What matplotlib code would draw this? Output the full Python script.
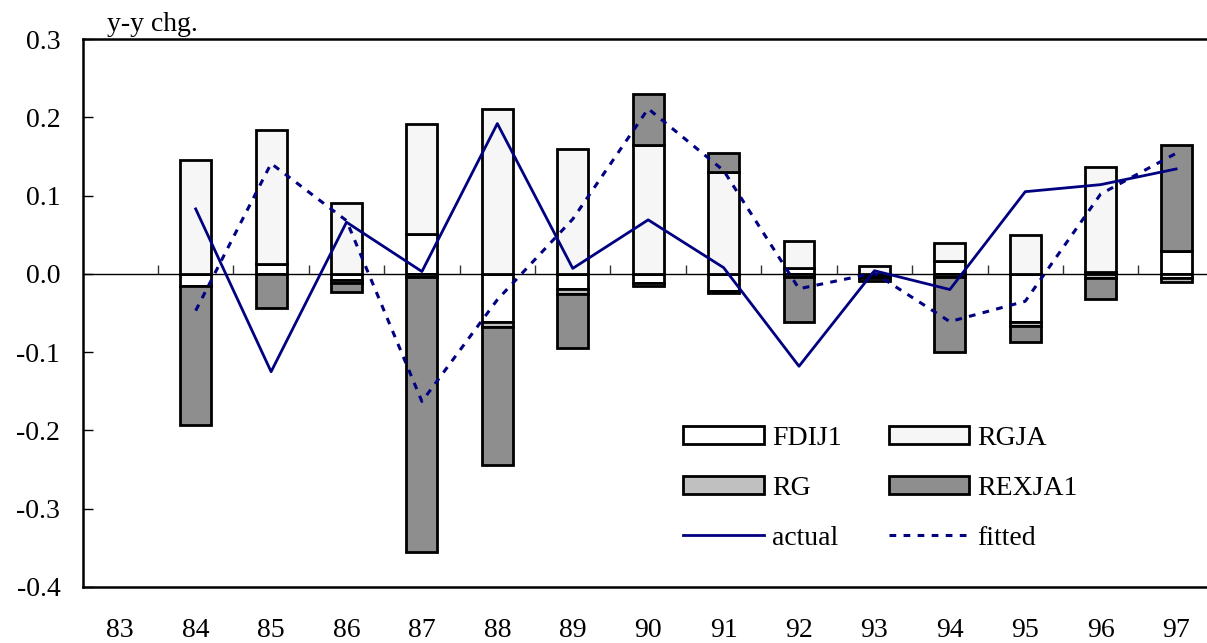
import numpy as np
import matplotlib
matplotlib.use("Agg")
import matplotlib.pyplot as plt
from matplotlib.lines import Line2D
from matplotlib.patches import Patch

years = ["83", "84", "85", "86", "87", "88", "89", "90", "91", "92", "93", "94", "95", "96", "97"]
FDIJ1 = [0, -0.015, 0.013, -0.008, 0.051, -0.062, -0.019, -0.012, -0.022, 0.007, -0.003, 0.016, -0.061, 0.002, 0.029]
RGJA = [0, 0.145, 0.171, 0.090, 0.140, 0.211, 0.160, 0.164, 0.130, 0.035, 0.010, 0.023, 0.050, 0.134, -0.005]
RG = [0, 0, 0, -0.004, -0.004, -0.006, -0.007, -0.004, -0.003, -0.004, -0.002, -0.004, -0.005, -0.005, -0.006]
REXJA1 = [0, -0.178, -0.043, -0.011, -0.351, -0.176, -0.069, 0.066, 0.025, -0.057, -0.004, -0.096, -0.021, -0.027, 0.135]
actual = [np.nan, 0.083, -0.125, 0.066, 0.003, 0.192, 0.007, 0.069, 0.008, -0.118, 0.004, -0.020, 0.105, 0.114, 0.134]
fitted = [np.nan, -0.047, 0.141, 0.068, -0.163, -0.033, 0.070, 0.211, 0.132, -0.019, 0.001, -0.061, -0.035, 0.102, 0.154]

series = [("FDIJ1", FDIJ1, "#ffffff"), ("RGJA", RGJA, "#f6f6f6"),
          ("RG", RG, "#c0c0c0"), ("REXJA1", REXJA1, "#8e8e8e")]

plt.rcParams['font.family'] = ['Liberation Serif', 'DejaVu Serif']
plt.rcParams['font.size'] = 20

fig = plt.figure(figsize=(12.07, 6.43), dpi=100)
ax = fig.add_axes([0.0684, 0.0871, 0.9316, 0.8522])

x = np.arange(len(years))
width = 0.41
EW = 2.0
pos = np.zeros(len(years))
neg = np.zeros(len(years))
for name, vals, col in series:
    v = np.array(vals, dtype=float)
    for i in range(len(v)):
        if v[i] == 0:
            continue
        if v[i] > 0:
            b = pos[i]
            pos[i] += v[i]
        else:
            b = neg[i]
            neg[i] += v[i]
        ax.bar(x[i], v[i], width=width, bottom=b, color=col, edgecolor="black",
               linewidth=EW, zorder=2)

ax.axhline(0, color="black", linewidth=1.0, zorder=1)
ax.vlines(x[:-1] + 0.5, 0, 0.0115, color="#333333", linewidth=1.0, zorder=1)

dash = (0, (2.2, 2.4))
ax.plot(x, actual, color="#000080", linewidth=2.0, zorder=3)
ax.plot(x, fitted, color="#000080", linewidth=2.2, linestyle=dash, zorder=3)

ax.set_xlim(-0.5, 14.41)
ax.set_ylim(-0.4, 0.3)
ax.set_xticks(x)
ax.set_xticklabels(years)
yt = [-0.4, -0.3, -0.2, -0.1, 0.0, 0.1, 0.2, 0.3]
ax.set_yticks(yt)
ax.set_yticklabels([f"{t:.1f}" for t in yt])
ax.tick_params(axis="x", length=0, pad=22)
ax.tick_params(axis="y", direction="in", length=7, width=1, pad=16)
ax.spines["right"].set_visible(False)
for s in ["left", "top", "bottom"]:
    ax.spines[s].set_linewidth(1.8)

ax.text(0.022, 1.004, "y-y chg.", transform=ax.transAxes, ha="left", va="bottom", fontsize=20)

handles = [Patch(facecolor="#ffffff", edgecolor="black", linewidth=EW),
           Patch(facecolor="#c0c0c0", edgecolor="black", linewidth=EW),
           Line2D([], [], color="#000080", linewidth=2.0),
           Patch(facecolor="#f6f6f6", edgecolor="black", linewidth=EW),
           Patch(facecolor="#8e8e8e", edgecolor="black", linewidth=EW),
           Line2D([], [], color="#000080", linewidth=2.2, linestyle=dash)]
labels = ["FDIJ1", "RG", "actual", "RGJA", "REXJA1", "fitted"]
ax.legend(handles, labels, ncol=2, frameon=False, loc="upper left",
          bbox_to_anchor=(0.534, 0.294), borderaxespad=0, borderpad=0,
          handlelength=2.9, handleheight=0.65, handletextpad=0.3,
          labelspacing=0.9, columnspacing=1.7, fontsize=20)

fig.savefig("out.png", dpi=100)
